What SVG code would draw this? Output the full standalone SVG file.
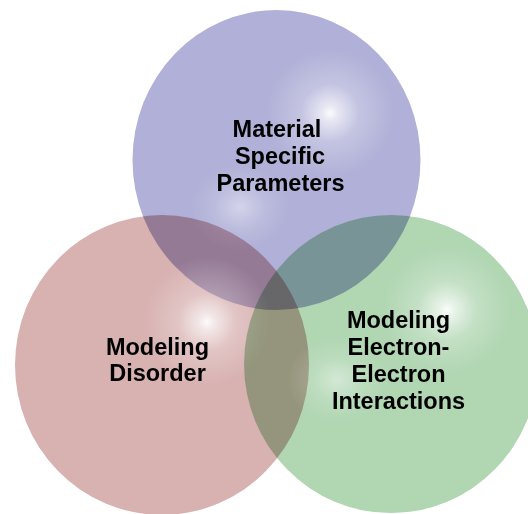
<svg xmlns="http://www.w3.org/2000/svg" width="528" height="514" viewBox="0 0 528 514">
  <style>
    .ball { mix-blend-mode: multiply; }
    .label { font-family: "Liberation Sans", Arial, sans-serif; font-weight: bold; font-size: 23.5px; fill: #000; text-anchor: middle; }
  </style>
  <defs>
    <radialGradient id="hl" cx="0.5" cy="0.5" r="0.5">
      <stop offset="0" stop-color="#fff" stop-opacity="0.95"/>
      <stop offset="0.12" stop-color="#fff" stop-opacity="0.7"/>
      <stop offset="0.45" stop-color="#fff" stop-opacity="0.25"/>
      <stop offset="1" stop-color="#fff" stop-opacity="0"/>
    </radialGradient>
    <radialGradient id="hl2" cx="0.5" cy="0.5" r="0.5">
      <stop offset="0" stop-color="#fff" stop-opacity="0.45"/>
      <stop offset="0.5" stop-color="#fff" stop-opacity="0.15"/>
      <stop offset="1" stop-color="#fff" stop-opacity="0"/>
    </radialGradient>
  </defs>
  <rect x="0" y="0" width="528" height="514" fill="#fff"/>
  <g id="connectors"></g>
  <g id="material">
    <ellipse class="ball" cx="276.5" cy="160" rx="144" ry="150" fill="#b0b0d8"/>
    <ellipse cx="330" cy="113" rx="65" ry="65" fill="url(#hl)"/>
    <ellipse cx="240" cy="207" rx="50" ry="44" fill="url(#hl2)"/>
    <text class="label" x="277" y="137">Material</text>
    <text class="label" x="280" y="164">Specific</text>
    <text class="label" x="280.5" y="191">Parameters</text>
  </g>
  <g id="disorder">
    <ellipse class="ball" cx="162" cy="365" rx="147" ry="150" fill="#d8b1b1"/>
    <ellipse cx="207" cy="322" rx="65" ry="65" fill="url(#hl)"/>
    <text class="label" x="157.5" y="355">Modeling</text>
    <text class="label" x="157.5" y="381">Disorder</text>
  </g>
  <g id="electron">
    <ellipse class="ball" cx="391" cy="364" rx="147" ry="149" fill="#b0d6b2"/>
    <ellipse cx="447" cy="310" rx="65" ry="65" fill="url(#hl)"/>
    <ellipse cx="337" cy="380" rx="50" ry="44" fill="url(#hl2)"/>
    <text class="label" x="398.5" y="328">Modeling</text>
    <text class="label" x="398.5" y="355">Electron-</text>
    <text class="label" x="398.5" y="382">Electron</text>
    <text class="label" x="398.5" y="409">Interactions</text>
  </g>
</svg>
